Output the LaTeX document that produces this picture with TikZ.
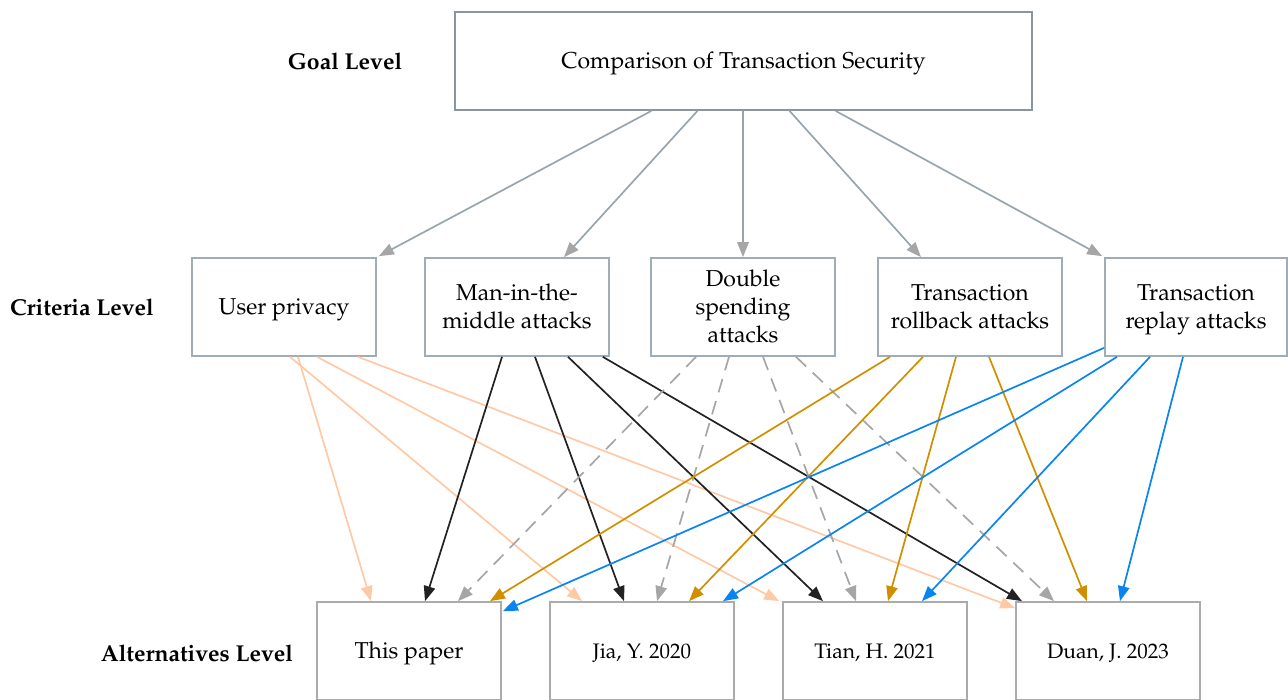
\documentclass[tikz,border=0pt]{standalone}
\usepackage[T1]{fontenc}
\usepackage{mathpazo}
\usetikzlibrary{arrows.meta,calc}
\definecolor{goalbd}{HTML}{8A959C}
\definecolor{critbd}{HTML}{9FAEB6}
\definecolor{altbd}{HTML}{ABABAB}
\definecolor{goalln}{HTML}{98A5AD}
\definecolor{tipgray}{HTML}{A6A6A6}
\definecolor{peach}{HTML}{FFC9A6}
\definecolor{inkblk}{HTML}{222222}
\definecolor{gold}{HTML}{D18F00}
\definecolor{skyblue}{HTML}{0A84F0}
\tikzset{
  box/.style={draw, line width=1.7pt, minimum width=184pt, minimum height=98pt,
    inner sep=0pt, align=center, fill=white, font=\fontsize{23}{28}\selectfont,
    text height=16pt, text depth=1pt},
  twoline/.style={text height=44pt},
  threeline/.style={text height=72pt},
  goalbox/.style={box, draw=goalbd, minimum width=577pt},
  critbox/.style={box, draw=critbd},
  altbox/.style={box, draw=altbd},
  smalltext/.style={font=\fontsize{21}{26}\selectfont},
  lvl/.style={inner sep=0pt, font=\fontsize{23}{28}\selectfont\bfseries},
  tipof/.style={-{Triangle[length=15pt,width=11.5pt,fill=#1,color=#1]}},
  goaledge/.style={line width=1.7pt, draw=goalln, tipof=tipgray},
  privedge/.style={line width=1.7pt, draw=peach, tipof=peach},
  mitmedge/.style={line width=1.7pt, draw=inkblk, tipof=inkblk},
  dsedge/.style={line width=1.7pt, draw=tipgray, dash pattern=on 14pt off 9pt, tipof=tipgray},
  tredge/.style={line width=1.7pt, draw=gold, tipof=gold},
  rpedge/.style={line width=1.7pt, draw=skyblue, tipof=skyblue}
}
\begin{document}
\begin{tikzpicture}[x=1pt,y=-1pt]
\useasboundingbox (0,0) rectangle (1288,700);
% level labels
\node[lvl] (lgoal) at (345,61) {Goal Level};
\node[lvl] (lcrit) at (82,307) {Criteria Level};
\node[lvl] (lalt) at (197,653) {Alternatives Level};
% goal
\node[goalbox] (goal) at (743.5,61) {Comparison of Transaction Security};
% criteria
\node[critbox] (up) at (284,307) {User privacy};
\node[critbox, twoline] (mitm) at (517,307) {Man-in-the-\\middle attacks};
\node[critbox, threeline] (ds) at (743,307) {Double\\spending\\attacks};
\node[critbox, twoline] (tr) at (970,307) {Transaction\\rollback attacks};
\node[critbox, twoline, minimum width=182pt] (rp) at (1196,307) {Transaction\\replay attacks};
% alternatives
\node[altbox] (tp) at (409,651) {This paper};
\node[altbox, smalltext] (jia) at (642,651) {Jia, Y. 2020};
\node[altbox, smalltext] (tian) at (875,651) {Tian, H. 2021};
\node[altbox, smalltext] (duan) at (1108,651) {Duan, J. 2023};
% goal -> criteria
\draw[goaledge] ($(goal.south)+(-92,0)$) -- ($(up.north east)+(2,-1)$);
\draw[goaledge] ($(goal.south)+(-46,0)$) -- ($(mitm.north)+(47,0)$);
\draw[goaledge] (goal.south -| ds.north) -- (ds.north);
\draw[goaledge] ($(goal.south)+(46,0)$) -- ($(tr.north)+(-49,0)$);
\draw[goaledge] ($(goal.south)+(92,0)$) -- ($(rp.north west)+(-2,-1)$);
% user privacy
\draw[privedge] ($(up.south)+(14,0)$) -- ($(tp.north)+(-38,0)$);
\draw[privedge] ($(up.south)+(6,0)$) -- ($(jia.north)+(-60,0)$);
\draw[privedge] ($(up.south)+(33,0)$) -- ($(tian.north west)+(-3,0)$);
\draw[privedge] ($(up.south)+(74,0)$) -- ($(duan.north west)+(0,7)$);
% man-in-the-middle
\draw[mitmedge] ($(mitm.south)+(-15,0)$) -- ($(tp.north)+(16,0)$);
\draw[mitmedge] ($(mitm.south)+(18,0)$) -- ($(jia.north)+(-18,0)$);
\draw[mitmedge] ($(mitm.south)+(51,0)$) -- ($(tian.north)+(-52,0)$);
\draw[mitmedge] ($(mitm.south east)+(-7,0)$) -- ($(duan.north)+(-86,0)$);
% double spending
\draw[dsedge] ($(ds.south)+(-47,0)$) -- ($(tp.north)+(49,0)$);
\draw[dsedge] ($(ds.south)+(-14,0)$) -- ($(jia.north)+(15,0)$);
\draw[dsedge] ($(ds.south)+(20,0)$) -- ($(tian.north)+(-19,0)$);
\draw[dsedge] ($(ds.south)+(53,0)$) -- ($(duan.north)+(-54,0)$);
% rollback
\draw[tredge] ($(tr.south)+(-80,0)$) -- ($(tp.north)+(81,0)$);
\draw[tredge] ($(tr.south)+(-47,0)$) -- ($(jia.north)+(47,0)$);
\draw[tredge] ($(tr.south)+(-14,0)$) -- ($(tian.north)+(13,0)$);
\draw[tredge] ($(tr.south)+(19,0)$) -- ($(duan.north)+(-21,0)$);
% replay
\draw[rpedge] ($(rp.south west)+(0,-9)$) -- ($(tp.north east)+(1,10)$);
\draw[rpedge] ($(rp.south)+(-79,0)$) -- ($(jia.north)+(81,0)$);
\draw[rpedge] ($(rp.south)+(-46,0)$) -- ($(tian.north)+(47,0)$);
\draw[rpedge] ($(rp.south)+(-13,0)$) -- ($(duan.north)+(12,0)$);
\end{tikzpicture}
\end{document}
